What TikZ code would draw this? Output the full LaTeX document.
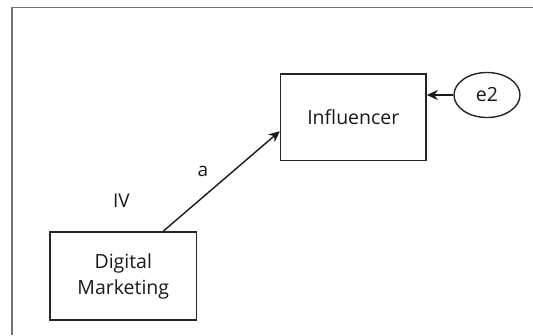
\documentclass[tikz,border=0pt]{standalone}
\usepackage{fontspec}
\setmainfont{Open Sans}
\usetikzlibrary{arrows.meta,shapes.geometric}

\tikzset{
	box/.style={draw=black!85,line width=1.7pt,align=center,inner sep=0pt},
	link/.style={draw=black!90,line width=1.4pt,-{Stealth[length=11pt,width=10pt]}},
	lbl/.style={inner sep=0pt,font=\fontsize{19}{22}\selectfont}
}

\begin{document}
\begin{tikzpicture}[x=1pt,y=-1pt,font=\fontsize{19.5}{26}\selectfont,text=black!90]
	\useasboundingbox (0,0) rectangle (533,335);
	\draw [black!55,line width=1.6pt] (12,335) -- (12,7.5) -- (533,7.5);
	
	\node (dm) [box,minimum width=146.6pt,minimum height=88pt] at (123.3,276) {Digital\\Marketing};
	\node (infl) [box,minimum width=145.4pt,minimum height=86.7pt] at (353.3,117.2) {Influencer};
	\node (e2) [draw=black!85,line width=1.4pt,ellipse,minimum width=66pt,minimum height=45pt,inner sep=0pt] at (487,95) {e2};
	
	\node (iv) [lbl] at (121.4,201) {IV};
	\node (a) [lbl] at (203,171) {a};
	
	\draw [link] ([xshift=40pt]dm.north) -- ([yshift=-14pt]infl.west);
	\draw [link] (e2.west) -- (e2.west -| infl.east);
	
\end{tikzpicture}
\end{document}
